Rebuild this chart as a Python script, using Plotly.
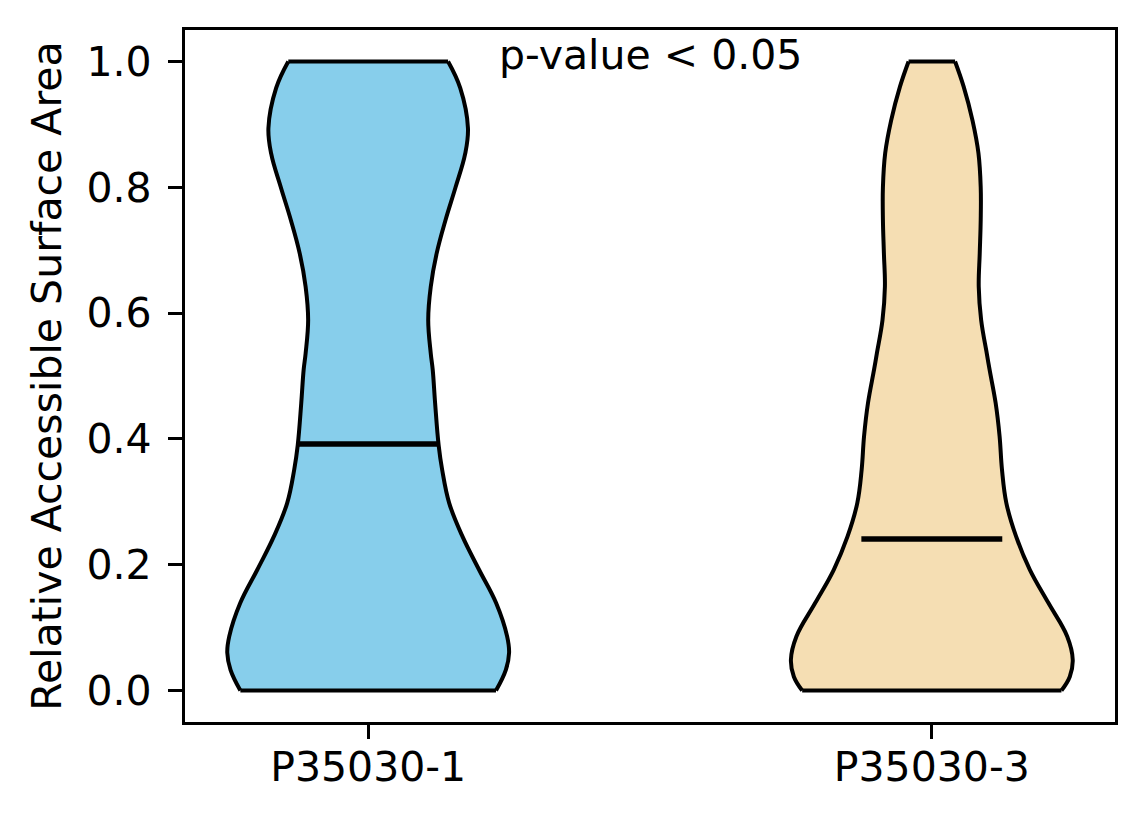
import plotly.graph_objects as go

# Violin outlines: RSA levels and relative density (1.0 = widest point)
groups = ["P35030-1", "P35030-3"]
colors = ["#87CEEB", "#F5DEB3"]

rsa_1 = [0.0, 0.033, 0.06, 0.086, 0.139, 0.192, 0.245, 0.298, 0.351, 0.39, 0.457,
         0.51, 0.536, 0.589, 0.642, 0.695, 0.748, 0.80, 0.853, 0.894, 0.958, 1.0]
density_1 = [0.907, 0.977, 1.0, 0.986, 0.908, 0.787, 0.669, 0.575, 0.525, 0.500, 0.475,
             0.458, 0.444, 0.426, 0.444, 0.486, 0.549, 0.620, 0.688, 0.708, 0.653, 0.567]

rsa_3 = [0.0, 0.022, 0.049, 0.086, 0.139, 0.192, 0.245, 0.298, 0.351, 0.404, 0.457,
         0.51, 0.536, 0.589, 0.642, 0.695, 0.748, 0.80, 0.854, 0.906, 0.96, 1.0]
density_3 = [0.920, 0.979, 1.0, 0.961, 0.828, 0.696, 0.598, 0.529, 0.498, 0.481, 0.453,
             0.410, 0.390, 0.350, 0.333, 0.340, 0.347, 0.347, 0.331, 0.289, 0.226, 0.165]

medians = [0.392, 0.241]

positions = [1, 2]
half_width = 0.25  # violin width 0.5
FS = 41

fig = go.Figure()

for pos, rsa, dens, col in zip(positions, [rsa_1, rsa_3], [density_1, density_3], colors):
    left = [pos - d * half_width for d in dens]
    right = [pos + d * half_width for d in dens]
    outline = dict(color="black", width=4, shape="spline", smoothing=1.1)
    fig.add_trace(go.Scatter(x=left, y=rsa, mode="lines", line=outline,
                             showlegend=False, hoverinfo="skip"))
    fig.add_trace(go.Scatter(x=right, y=rsa, mode="lines", line=outline,
                             fill="tonextx", fillcolor=col,
                             showlegend=False, hoverinfo="skip"))
    # flat ends at min and max
    fig.add_trace(go.Scatter(x=[left[0], right[0], None, left[-1], right[-1]],
                             y=[rsa[0], rsa[0], None, rsa[-1], rsa[-1]],
                             mode="lines", line=dict(color="black", width=4),
                             showlegend=False, hoverinfo="skip"))

for pos, med in zip(positions, medians):
    fig.add_trace(go.Scatter(x=[pos - half_width / 2, pos + half_width / 2], y=[med, med],
                             mode="lines", line=dict(color="black", width=5.5),
                             showlegend=False))

fig.add_annotation(x=1.5, y=1.01, text="p-value < 0.05", showarrow=False,
                   xanchor="center", yanchor="middle", font=dict(size=FS, color="black"))

fig.update_layout(
    width=1136, height=816,
    margin=dict(l=177, r=29, t=22, b=102),
    plot_bgcolor="white", paper_bgcolor="white",
    font=dict(family="DejaVu Sans", size=FS, color="black"),
    xaxis=dict(range=[0.675, 2.325], tickvals=positions, ticktext=groups,
               showgrid=False, zeroline=False, showline=True, linecolor="black", linewidth=3.2,
               mirror=True, ticks="outside", ticklen=14, tickwidth=3.2, tickcolor="black",
               ticklabelstandoff=-7),
    yaxis=dict(range=[-0.05, 1.05], tickvals=[0, 0.2, 0.4, 0.6, 0.8, 1.0], tickformat=".1f",
               showgrid=False, zeroline=False, showline=True, linecolor="black", linewidth=3.2,
               mirror=True, ticks="outside", ticklen=14, tickwidth=3.2, tickcolor="black",
               ticklabelstandoff=8,
               title=dict(text="Relative Accessible Surface Area", standoff=13,
                          font=dict(size=FS))),
)

fig.write_html("out.html")
